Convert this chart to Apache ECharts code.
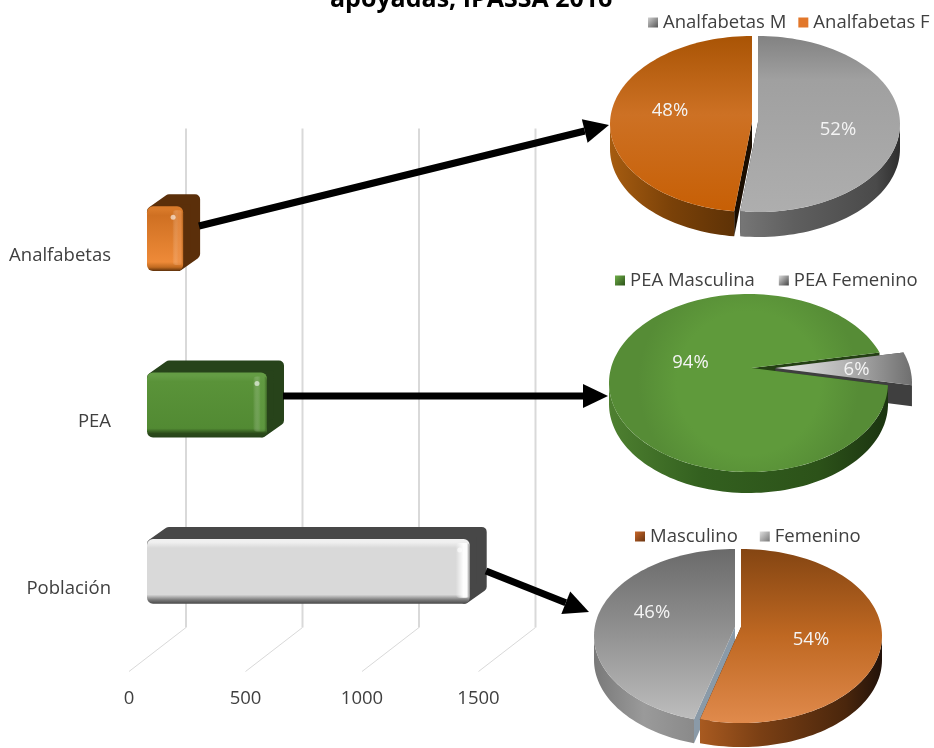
<!DOCTYPE html>
<html><head><meta charset="utf-8"><style>html,body{margin:0;padding:0;background:#fff}#c{width:934px;height:748px}</style>
<script src="https://cdn.jsdelivr.net/npm/echarts@6/dist/echarts.min.js"></script></head>
<body><div id="c"></div>
<script>
const categories = ['Población', 'PEA', 'Analfabetas'];
const barValues = [1385, 515, 155];
const axisTicks = [0, 500, 1000, 1500];
const analfabetasNames = ['Analfabetas M', 'Analfabetas F'];
const analfabetasValues = [52, 48];
const peaNames = ['PEA Femenino', 'PEA Masculina'];
const peaValues = [6, 94];
const poblacionNames = ['Femenino', 'Masculino'];
const poblacionValues = [46, 54];

const FONT = '"Open Sans", "Noto Sans", sans-serif';
const FS = 18.5;
const grad = (x2, y2, stops) => ({type:'linear', x:0, y:0, x2, y2, colorStops: stops.map((c,i)=>({offset: Array.isArray(c)?c[0]:i/(stops.length-1), color: Array.isArray(c)?c[1]:c}))});
const radial = (inner, outer) => ({type:'radial', x:.5, y:.5, r:.62, colorStops:[{offset:0,color:inner},{offset:.65,color:inner},{offset:1,color:outer}]});

const barStyle = {
  'Población': {mid0:'#d9d9d9', mid1:'#d9d9d9', light:'#f0f0f0', edge:'#7a7a7a', dark:'#474747', strip:'#ffffff', rim:'#8a8a8a', so:.95},
  'PEA': {mid0:'#5a9339', mid1:'#528a33', light:'#649c44', edge:'#2b4a1a', dark:'#27431a', strip:'#659e46', rim:'#2b4a1a', so:.6},
  'Analfabetas': {mid0:'#cf7022', mid1:'#ee8a38', light:'#d97a2a', edge:'#c06a20', dark:'#5b2f0a', strip:'#ee9a58', rim:'#a05a18', so:.5}
};

function renderBar(params, api) {
  const cat = categories[api.value(1)];
  const s = barStyle[cat];
  const band = api.size([0,1])[1];
  const shiftX = 18, h = band * 0.39, dx = 17, dy = -12;
  const p0 = api.coord([0, api.value(1)]), p1 = api.coord([api.value(0), api.value(1)]);
  const x0 = p0[0] + shiftX, x1 = p1[0] + shiftX;
  const yc = p0[1] - 17, y0 = yc - h/2, y1 = yc + h/2;
  const r = 6, w = x1 - x0;
  const t = 5;
  const sw = Math.min(14, w*.3);
  return {type:'group', children:[
    {type:'polygon', shape:{points:[[x0+t,y0+t],[x0+dx+t,y0+dy+t],[x1+dx-t,y0+dy+t],[x1+dx-t,y1+dy-t],[x1-t,y1-t],[x1-t,y0+t]]},
     style:{fill:s.dark, stroke:s.dark, lineWidth:10, lineJoin:'round'}},
    {type:'rect', shape:{x:x0,y:y0,width:w,height:h,r:r},
     style:{fill:grad(0,1,[[0,s.light],[.05,s.light],[.14,s.mid0],[.86,s.mid1],[.94,s.edge],[1,s.dark]])}},
    {type:'rect', shape:{x:x1-sw,y:y0+4,width:sw,height:h-10,r:4},
     style:{fill:grad(1,0,[[0,'rgba(255,255,255,0)'],[.55,s.strip],[.8,s.strip],[1,s.rim]]), opacity:s.so}},
    {type:'circle', shape:{cx:x1-10,cy:y0+11,r:2.5}, style:{fill:'#ffffff', opacity:.6}}
  ]};
}

function renderGridLine(params, api) {
  const sys = params.coordSys;
  const x = api.coord([api.value(0), 0])[0], b = sys.y + sys.height;
  return {type:'group', children:[
    {type:'line', shape:{x1:x,y1:b,x2:x+57,y2:b-44}, style:{stroke:'#d9d9d9', lineWidth:1}},
    {type:'line', shape:{x1:x+57,y1:b-44,x2:x+57,y2:sys.y-44}, style:{stroke:'#d9d9d9', lineWidth:2}}
  ]};
}

function makeSlice(pie, idx) {
  const total = pie.values.reduce((a,b)=>a+b,0);
  let frac = 0;
  for (let i=0;i<idx;i++) frac += pie.values[i]/total;
  const sl = pie.slices[idx];
  const value = pie.values[idx];
  const a0 = pie.start + frac*360 + (sl.ad0||0), a1 = a0 - (sl.ad0||0) + value/total*360 + (sl.ad1||0);
  const rad = d => d*Math.PI/180;
  const pt = (a, dz=0) => [pie.cx + sl.dx + pie.rx*Math.sin(rad(a)), pie.cy + sl.dy + dz - pie.ry*Math.cos(rad(a))];
  const arc = (from, to, dz=0) => { const o=[]; const n=Math.max(2,Math.ceil((to-from)/2)); for(let i=0;i<=n;i++) o.push(pt(from+(to-from)*i/n,dz)); return o; };
  const tip = [pie.cx+sl.dx+(pie.tipDx||0), pie.tipY+sl.dy];
  const tipD = [tip[0], tip[1]+pie.depth];
  const zz = Object.assign({cut0:5,cut1:5,wall:5,top:5}, sl.layers||{});
  return {
    type:'custom', name: pie.names[idx], coordinateSystem:'none', z:3, silent:true,
    data:[[value]],
    itemStyle:{color:sl.legend},
    renderItem(){
      const ch = [];
      ch.push({type:'polygon', z2:zz.cut1, shape:{points:[tip,pt(a1),pt(a1,pie.depth),tipD]}, style:{fill:sl.cut}});
      ch.push({type:'polygon', z2:zz.cut0, shape:{points:[tip,pt(a0),pt(a0,pie.depth),tipD]}, style:{fill:sl.cut}});
      [0,360].forEach(off => {
        const f0=Math.max(a0,90+off), f1=Math.min(a1,270+off);
        if (f1>f0) {
          const up=arc(f0,f1), dn=arc(f0,f1,pie.depth).reverse();
          ch.push({type:'polygon', z2:zz.wall, shape:{points:up.concat(dn)}, style:{fill:sl.wall}});
        }
      });
      ch.push({type:'polygon', z2:zz.top, shape:{points:[tip].concat(arc(a0,a1))}, style:{fill:sl.top}});
      ch.push({type:'text', z2:10, style:{x:pie.cx+sl.lx, y:pie.cy+sl.ly, text:Math.round(value/total*100)+'%', fill:'#f4f4f4', font:FS+'px '+FONT, align:'center', verticalAlign:'middle'}});
      return {type:'group', children:ch};
    }
  };
}

const pies = [
 {cx:755, cy:124, tipY:122, rx:142, ry:88, depth:25, start:0, names:analfabetasNames, values:analfabetasValues, slices:[
   {dx:3, dy:0, lx:83, ly:6, cut:'#333', legend:grad(1,1,['#d0d0d0','#555']),
    top:grad(0,1,['#828282',[.25,'#a0a0a0'],'#aeaeae']), wall:grad(1,0,['#767676','#5f5f5f',[.85,'#4a4a4a'],'#2e2e2e'])},
   {dx:-3, dy:0, lx:-85, ly:-13, cut:'#1a0d00', legend:'#e2772a',
    top:grad(0,1,['#a95405',[.45,'#cd7124'],'#c75f05']), wall:grad(1,0,['#a65c10','#7a4108','#5e3206'])}]},
 {cx:748.5, cy:383, tipY:368, tipDx:3, rx:139.5, ry:89, depth:21, start:69.9, names:peaNames, values:peaValues, slices:[
   {dx:24, dy:0, lx:108, ly:-13, cut:'#3f3f3f', legend:grad(1,1,['#dcdcdc','#444']), layers:{cut0:2,cut1:2,wall:2,top:2},
    top:grad(1,0,['#e8e8e8',[.5,'#b5b5b5'],'#6f6f6f']), wall:'#3f3f3f'},
   {dx:0, dy:0, lx:-58, ly:-20, cut:'#244014', legend:grad(1,1,['#6fae49','#2c5219']), layers:{cut1:1,cut0:3,wall:3,top:3},
    top:radial('#5f9a3b','#568c36'), wall:grad(1,0,['#4e8030','#33601f',[.75,'#2c5219'],'#1b3410'])}]},
 {cx:738, cy:636, tipY:627, rx:141, ry:87, depth:24, start:194.4, names:poblacionNames, values:poblacionValues, slices:[
   {dx:-3, dy:0, lx:-86, ly:-23, ad0:2.5, cut:'#8a9aa8', legend:grad(1,1,['#e0e0e0','#777']),
    top:grad(0,1,['#6a6a6a',[.5,'#929292'],'#bdbdbd']), wall:grad(1,0,['#797979','#9a9a9a','#8a8a8a'])},
   {dx:3, dy:0, lx:73, ly:4, ad1:2.5, cut:'#3a1d08', legend:grad(1,1,['#c8672a','#6a3410']),
    top:grad(0,1,['#844512',[.5,'#bf6822'],'#e08a4c']), wall:grad(1,0,['#a85a20','#7a3f14',[.8,'#4a260c'],'#22120a'])}]}
];

function arrow(x1,y1,x2,y2){
  const L=Math.hypot(x2-x1,y2-y1), ux=(x2-x1)/L, uy=(y2-y1)/L, hl=25, hw=12;
  const bx=x2-ux*hl, by=y2-uy*hl;
  return [
    {type:'line', z:6, shape:{x1,y1,x2:bx,y2:by}, style:{stroke:'#000', lineWidth:7}},
    {type:'polygon', z:6, shape:{points:[[x2,y2],[bx-uy*hw,by+ux*hw],[bx+uy*hw,by-ux*hw]]}, style:{fill:'#000'}}
  ];
}

const legendText = {color:'#404040', fontSize:FS, fontFamily:FONT};
const legendBase = {orient:'horizontal', icon:'rect', itemWidth:10, itemHeight:10, textStyle:legendText, selectedMode:false, padding:0};

const seriesPies = [];
pies.forEach(p => p.values.forEach((v,i)=>seriesPies.push(makeSlice(p,i))));

const chart = echarts.init(document.getElementById('c'), null, {renderer:'canvas'});
chart.setOption({
  animation:false,
  backgroundColor:'#fff',
  title:{text:'apoyadas, IPASSA 2016', left:330, top:-13, padding:0, textStyle:{fontFamily:FONT, fontSize:25, fontWeight:'bold', color:'#000'}},
  grid:{left:129, top:172.5, width:349.5, height:499},
  xAxis:{type:'value', min:0, max:1500, interval:500, axisLine:{show:false}, axisTick:{show:false}, splitLine:{show:false},
    axisLabel:{margin:18, color:'#404040', fontSize:FS, fontFamily:FONT, formatter:v=>String(v)}},
  yAxis:{type:'category', data:categories, axisLine:{show:false}, axisTick:{show:false}, splitLine:{show:false},
    axisLabel:{margin:18, color:'#404040', fontSize:FS, fontFamily:FONT}},
  legend:[
    Object.assign({},legendBase,{left:648, top:13, itemGap:12, data:['Analfabetas M','Analfabetas F']}),
    Object.assign({},legendBase,{left:615, top:271, itemGap:24, data:['PEA Masculina','PEA Femenino']}),
    Object.assign({},legendBase,{left:635, top:527, itemGap:22, data:['Masculino','Femenino']})
  ],
  graphic:{elements:[].concat(arrow(199,226,609,125), arrow(283,396,608,396), arrow(486,571,589,612))},
  series:[
    {type:'custom', name:'grid3d', coordinateSystem:'cartesian2d', z:1, silent:true, renderItem:renderGridLine, encode:{x:0},
     data:axisTicks.map(t=>[t,0]), clip:false},
    {type:'custom', name:'barras', coordinateSystem:'cartesian2d', z:2, silent:true, renderItem:renderBar, encode:{x:0,y:1},
     data:barValues.map((v,i)=>[v,i]), clip:false}
  ].concat(seriesPies)
});
</script></body></html>
